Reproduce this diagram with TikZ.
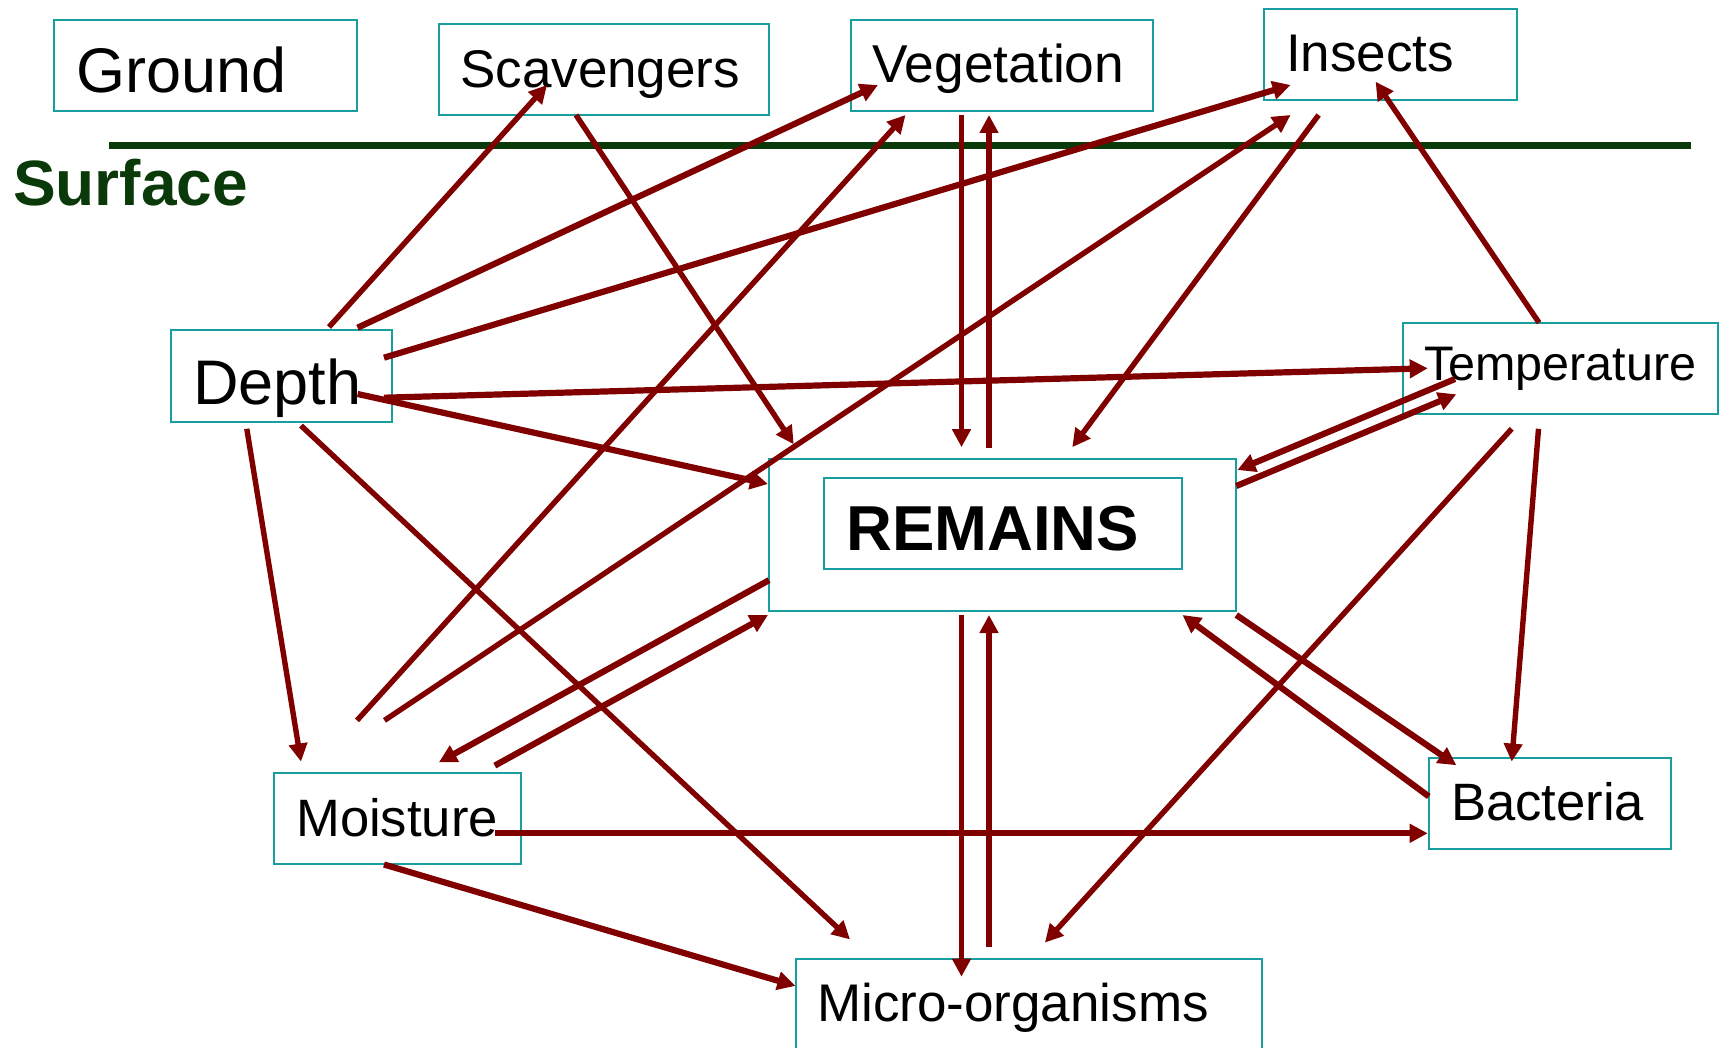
\documentclass[tikz,border=0pt]{standalone}
\usepackage{fontspec}
\setmainfont{Liberation Sans}
\usetikzlibrary{arrows.meta}
\definecolor{arr}{RGB}{128,0,0}
\definecolor{boxc}{RGB}{24,158,158}
\definecolor{surf}{RGB}{10,58,10}
\tikzset{
  box/.style={draw=boxc,line width=2pt,rectangle,inner sep=0pt},
  lbl/.style={anchor=base west,inner sep=0pt,text=black},
  conn/.style={draw=arr,line width=5.4pt,-{Triangle[length=18pt,width=18pt]}},
  thick conn/.style={conn,line width=6.2pt},
}
\newcommand{\boxat}[5]{\node[box,minimum width=#4pt-#2pt,minimum height=#5pt-#3pt] (#1) at ({(#2+#4)/2},{(#3+#5)/2}) {};}
\begin{document}
\begin{tikzpicture}[x=1pt,y=-1pt]
\useasboundingbox (0,0) rectangle (1720,1048);
\fill[white] (0,0) rectangle (1720,1048);
% boxes
\boxat{ground}{54}{20}{357}{111}
\boxat{scav}{439}{24}{769}{115}
\boxat{veg}{851}{20}{1153}{111}
\boxat{ins}{1264}{9}{1517}{100}
\boxat{depth}{171}{330}{392}{422}
\boxat{temp}{1403}{323}{1718}{414}
\boxat{rem}{769}{459}{1236}{611}
\boxat{remin}{824}{478}{1182}{569}
\boxat{moist}{274}{773}{521}{864}
\boxat{bact}{1429}{758}{1671}{849}
\boxat{micro}{796}{959}{1262}{1070}
% surface line
\coordinate (sl) at (109,145.3);
\coordinate (sr) at (1691,145.3);
\draw[surf,line width=7.5pt] (sl) -- (sr);
% texts
\node[lbl,font=\fontsize{63}{63}\selectfont] (tground) at (76,93) {Ground};
\node[lbl,font=\fontsize{53}{53}\selectfont] (tscav) at (460,87.5) {Scavengers};
\node[lbl,font=\fontsize{53.3}{53.3}\selectfont] (tveg) at (872,83) {Vegetation};
\node[lbl,font=\fontsize{53}{53}\selectfont] (tins) at (1286,71.5) {Insects};
\node[lbl,font=\fontsize{64}{64}\selectfont\bfseries,text=surf] (tsurf) at (13,206) {Surface};
\node[lbl,font=\fontsize{63}{63}\selectfont] (tdepth) at (193,404) {Depth};
\node[lbl,font=\fontsize{48.5}{48.5}\selectfont] (ttemp) at (1424,380) {Temperature};
\node[lbl,font=\fontsize{63.5}{63.5}\selectfont\bfseries] (trem) at (846,550) {REMAINS};
\node[lbl,font=\fontsize{52.6}{52.6}\selectfont] (tmoist) at (296,836.5) {Moisture};
\node[lbl,font=\fontsize{52.6}{52.6}\selectfont] (tbact) at (1451,820) {Bacteria};
\node[lbl,font=\fontsize{53}{53}\selectfont] (tmicro) at (817,1021) {Micro-organisms};
% connector end points
\coordinate (a1s) at (329,327);   \coordinate (a1e) at (547,85);
\coordinate (a2s) at (357.6,327.7); \coordinate (a2e) at (878,85);
\coordinate (a3s) at (384,357.7); \coordinate (a3e) at (1290.6,85);
\coordinate (a4s) at (384,397.7); \coordinate (a4e) at (1427.7,368.3);
\coordinate (a5s) at (357.6,394); \coordinate (a5e) at (768,484);
\coordinate (a6s) at (246.8,428.8); \coordinate (a6e) at (301,761.6);
\coordinate (a7s) at (301,425.6); \coordinate (a7e) at (850,939.4);
\coordinate (a8s) at (576,115); \coordinate (a8e) at (793.7,444.3);
\coordinate (a9s) at (961.5,115); \coordinate (a9e) at (961.5,447.2);
\coordinate (a10s) at (989,448); \coordinate (a10e) at (989,115);
\coordinate (a11s) at (1318.6,115); \coordinate (a11e) at (1072.3,447.2);
\coordinate (a12s) at (357,720.4); \coordinate (a12e) at (905.5,115);
\coordinate (a13s) at (384.5,720.4); \coordinate (a13e) at (1290.6,115);
\coordinate (a14s) at (1539,322.7); \coordinate (a14e) at (1375.6,81.7);
\coordinate (a15s) at (1455,379); \coordinate (a15e) at (1237.4,470);
\coordinate (a16s) at (1236.3,486); \coordinate (a16e) at (1456.3,394.3);
\coordinate (a17s) at (1538.5,428.8); \coordinate (a17e) at (1511.7,761.6);
\coordinate (a18s) at (1511.7,428.8); \coordinate (a18e) at (1044.9,942.6);
\coordinate (a19s) at (769,580.2); \coordinate (a19e) at (438.8,762.4);
\coordinate (a20s) at (494.8,765.6); \coordinate (a20e) at (768,615);
\coordinate (a21s) at (961.5,615); \coordinate (a21e) at (961.5,976.7);
\coordinate (a22s) at (989,947.4); \coordinate (a22e) at (989,615);
\coordinate (a23s) at (1236.3,615); \coordinate (a23e) at (1456.3,765.2);
\coordinate (a24s) at (1428.8,796.4); \coordinate (a24e) at (1182.5,615);
\coordinate (a25s) at (494.8,833.3); \coordinate (a25e) at (1427.7,833.3);
\coordinate (a26s) at (384,864.5); \coordinate (a26e) at (795.4,985.9);
% connectors
\draw[conn] (a1s) -- (a1e);
\draw[thick conn] (a2s) -- (a2e);
\draw[thick conn] (a3s) -- (a3e);
\draw[thick conn] (a4s) -- (a4e);
\draw[thick conn] (a5s) -- (a5e);
\draw[conn] (a6s) -- (a6e);
\draw[conn] (a7s) -- (a7e);
\draw[conn] (a8s) -- (a8e);
\draw[conn] (a9s) -- (a9e);
\draw[conn] (a10s) -- (a10e);
\draw[conn] (a11s) -- (a11e);
\draw[conn] (a12s) -- (a12e);
\draw[conn] (a13s) -- (a13e);
\draw[conn] (a14s) -- (a14e);
\draw[thick conn] (a15s) -- (a15e);
\draw[thick conn] (a16s) -- (a16e);
\draw[conn] (a17s) -- (a17e);
\draw[conn] (a18s) -- (a18e);
\draw[thick conn] (a19s) -- (a19e);
\draw[thick conn] (a20s) -- (a20e);
\draw[conn] (a21s) -- (a21e);
\draw[conn] (a22s) -- (a22e);
\draw[thick conn] (a23s) -- (a23e);
\draw[thick conn] (a24s) -- (a24e);
\draw[thick conn] (a25s) -- (a25e);
\draw[thick conn] (a26s) -- (a26e);
\end{tikzpicture}
\end{document}
